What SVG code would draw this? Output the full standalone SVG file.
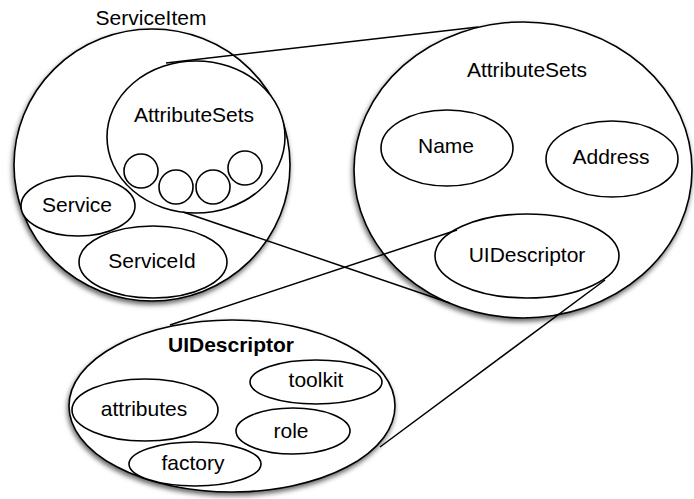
<svg xmlns="http://www.w3.org/2000/svg" width="694" height="499" viewBox="0 0 694 499">
<defs>
<filter id="sh" x="-10%" y="-10%" width="120%" height="125%">
<feDropShadow dx="-1" dy="3" stdDeviation="2.5" flood-color="#000" flood-opacity="0.6"/>
</filter>
<style>
.o{fill:#fff;stroke:#000;stroke-width:1.6}
.big{filter:url(#sh)}
text{font-family:"Liberation Sans",Arial,Helvetica,sans-serif;font-size:21px;text-anchor:middle;fill:#000}
.b{font-weight:bold}
.c{fill:none;stroke:#000;stroke-width:1.5}
</style>
</defs>
<rect width="694" height="499" fill="#fff"/>
<g id="serviceitem">
<ellipse class="o big" cx="152" cy="165" rx="138" ry="136"/>
<text x="151" y="25">ServiceItem</text>
</g>
<g id="attributesets-small">
<ellipse class="o" cx="196" cy="137" rx="89" ry="76"/>
<text x="194" y="122">AttributeSets</text>
<circle class="o" cx="141" cy="171" r="17"/>
<circle class="o" cx="176" cy="187" r="17"/>
<circle class="o" cx="213" cy="187" r="17"/>
<circle class="o" cx="245" cy="168" r="17"/>
</g>
<g id="service">
<ellipse class="o" cx="78" cy="206" rx="57" ry="30"/>
<text x="77" y="212">Service</text>
</g>
<g id="serviceid">
<ellipse class="o" cx="153" cy="262" rx="74" ry="36"/>
<text x="152" y="268">ServiceId</text>
</g>
<g id="attributesets-big">
<ellipse class="o big" cx="523" cy="170" rx="169" ry="148"/>
<text x="527" y="77">AttributeSets</text>
</g>
<g id="name">
<ellipse class="o" cx="447" cy="148" rx="66" ry="38"/>
<text x="446" y="153">Name</text>
</g>
<g id="address">
<ellipse class="o" cx="612" cy="159" rx="66" ry="38"/>
<text x="611" y="164">Address</text>
</g>
<g id="uidescriptor-small">
<ellipse class="o" cx="527" cy="256" rx="92" ry="42"/>
<text x="527" y="262">UIDescriptor</text>
</g>
<g id="uidescriptor-big">
<ellipse class="o big" cx="232" cy="406" rx="163" ry="86"/>
<text class="b" x="231" y="352">UIDescriptor</text>
</g>
<g id="toolkit">
<ellipse class="o" cx="316" cy="382" rx="66" ry="22"/>
<text x="316" y="387">toolkit</text>
</g>
<g id="attributes">
<ellipse class="o" cx="145" cy="410" rx="73" ry="31"/>
<text x="144" y="416">attributes</text>
</g>
<g id="role">
<ellipse class="o" cx="293" cy="431" rx="57" ry="23"/>
<text x="291" y="438">role</text>
</g>
<g id="factory">
<ellipse class="o" cx="195" cy="464" rx="66" ry="22"/>
<text x="193" y="470">factory</text>
</g>
<g id="connectors">
<line class="c" x1="166" y1="63" x2="478" y2="27"/>
<line class="c" x1="183" y1="212" x2="450" y2="303"/>
<line class="c" x1="457" y1="230" x2="170" y2="325"/>
<line class="c" x1="605" y1="280" x2="380" y2="447"/>
</g>
</svg>
